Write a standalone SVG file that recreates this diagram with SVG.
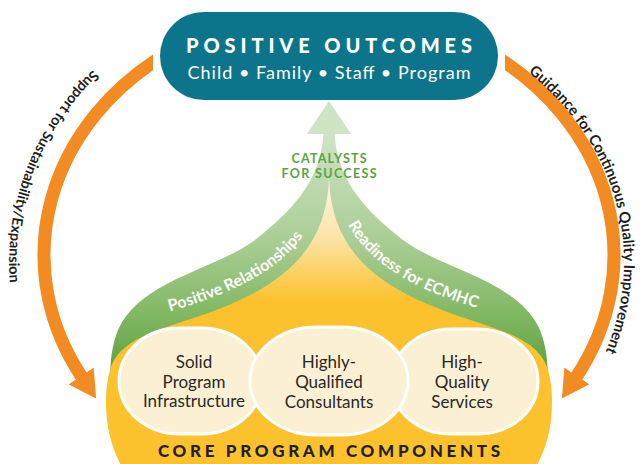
<svg xmlns="http://www.w3.org/2000/svg" width="641" height="464" viewBox="0 0 641 464">
<style>
.arc{fill:none;stroke:#f28b22;stroke-width:13}
.arclbl{font-family:Lato,"Liberation Sans",sans-serif;font-size:14.5px;font-weight:700;fill:#231f20}
.comp{fill:#fcf0d4;stroke:#ffffff;stroke-width:3}
.ct{font-family:Lato,"Liberation Sans",sans-serif;font-size:17px;fill:#2b2825;text-anchor:middle}
.band{font-family:Lato,"Liberation Sans",sans-serif;font-size:16px;font-weight:700;fill:#ffffff}
.cat{font-family:Lato,"Liberation Sans",sans-serif;font-size:12.5px;font-weight:700;fill:#5aa443;text-anchor:middle}
</style>
<defs>
<linearGradient id="gGreen" gradientUnits="userSpaceOnUse" x1="0" y1="130" x2="0" y2="370">
<stop offset="0" stop-color="#d0e4c6"/>
<stop offset="0.45" stop-color="#abce96"/>
<stop offset="0.75" stop-color="#84b966"/>
<stop offset="1" stop-color="#5ca340"/>
</linearGradient>
<linearGradient id="gInner" gradientUnits="userSpaceOnUse" x1="0" y1="180" x2="0" y2="300">
<stop offset="0" stop-color="#fdf6e6"/>
<stop offset="0.5" stop-color="#fde2a4"/>
<stop offset="1" stop-color="#fcc22e"/>
</linearGradient>
<marker id="head" markerUnits="userSpaceOnUse" markerWidth="27" markerHeight="30" viewBox="0 0 27 30" refX="1" refY="15" orient="auto">
<path d="M0,0 L27,15 L0,30 Z" fill="#f28b22"/>
</marker>
<clipPath id="clipL"><rect x="0" y="0" width="153" height="464"/></clipPath>
<clipPath id="clipR"><rect x="505" y="0" width="136" height="464"/></clipPath>
<path id="tpL" d="M 123.3 43.7 A 320 285 0 0 0 39 382.4"/>
<path id="tpR" d="M 518.6 65.1 A 295 257 0 0 1 584.5 390.5"/>
<path id="tpG1" d="M 160 314 C 230 295, 290 270, 315 215"/>
<path id="tpG2" d="M 343 215 C 368 270, 428 295, 498 314"/>
</defs>

<g id="connectors">
<g clip-path="url(#clipL)"><path class="arc" d="M 169.6 51.9 A 285 245 0 0 0 81.7 376.8"/></g>
<g clip-path="url(#clipR)"><path class="arc" d="M 488.4 51.9 A 285 245 0 0 1 576.3 376.8"/></g>
<path d="M 81.7 376.8 l 0.01 0.015" fill="none" stroke="none" marker-end="url(#head)"/>
<path d="M 576.3 376.8 l -0.01 0.015" fill="none" stroke="none" marker-end="url(#head)"/>
<text class="arclbl"><textPath href="#tpL" startOffset="40">Support for Sustainability/Expansion</textPath></text>
<text class="arclbl" style="font-size:15px"><textPath href="#tpR" startOffset="12">Guidance for Continuous Quality Improvement</textPath></text>
</g>

<g id="catalysts">
<path d="M 323.5 133 C 321 175, 300 205, 255 240 C 215 270, 140 280, 118 330 C 112 345, 110 360, 110 385 L 548 385 C 548 360, 546 345, 540 330 C 518 280, 443 270, 403 240 C 358 205, 337 175, 334.5 133 Z" fill="url(#gGreen)"/>
<polygon points="329,101 307,134 351,134" fill="#cfe3c5"/>
<path d="M 329 178 C 327 235, 300 272, 240 300 L 240 306 L 418 306 L 418 300 C 358 272, 331 235, 329 178 Z" fill="url(#gInner)"/>
<text class="cat" x="329" y="163" textLength="75" lengthAdjust="spacing">CATALYSTS</text>
<text class="cat" x="329" y="178" textLength="95" lengthAdjust="spacing">FOR SUCCESS</text>
<text class="band"><textPath href="#tpG1" startOffset="10">Positive Relationships</textPath></text>
<text class="band"><textPath href="#tpG2" startOffset="11">Readiness for ECMHC</textPath></text>
</g>

<g id="core">
<path d="M 240 300 C 180 328, 122 330, 110 370 C 106 384, 105 400, 107 420 C 110 445, 118 462, 135 490 L 523 490 C 540 462, 548 445, 551 420 C 553 400, 552 384, 548 370 C 536 330, 478 328, 418 300 Z" fill="#fcc22e"/>
<text x="329" y="457" textLength="342" lengthAdjust="spacing" style="font-family:Lato,'Liberation Sans',sans-serif;font-size:17px;font-weight:900;fill:#231f20;text-anchor:middle">CORE PROGRAM COMPONENTS</text>
</g>

<g id="comp-infrastructure">
<rect class="comp" x="119" y="328" width="143" height="106" rx="60" ry="53"/>
<text class="ct" x="194" y="368">Solid</text>
<text class="ct" x="194" y="388">Program</text>
<text class="ct" x="194" y="407">Infrastructure</text>
</g>
<g id="comp-services">
<rect class="comp" x="391" y="329" width="147" height="105" rx="60" ry="52"/>
<text class="ct" x="462" y="368">High-</text>
<text class="ct" x="462" y="388">Quality</text>
<text class="ct" x="462" y="408">Services</text>
</g>
<g id="comp-consultants">
<rect class="comp" x="250" y="327" width="158" height="108" rx="66" ry="54"/>
<text class="ct" x="329" y="368">Highly-</text>
<text class="ct" x="329" y="388">Qualified</text>
<text class="ct" x="329" y="408">Consultants</text>
</g>

<g id="outcomes">
<rect x="160" y="12" width="338" height="88" rx="44" ry="44" fill="#0d758b"/>
<text x="329" y="53" textLength="286" lengthAdjust="spacing" style="font-family:Lato,'Liberation Sans',sans-serif;font-size:20px;font-weight:900;fill:#ffffff;text-anchor:middle">POSITIVE OUTCOMES</text>
<text x="329" y="79" textLength="283" lengthAdjust="spacing" style="font-family:Lato,'Liberation Sans',sans-serif;font-size:18px;fill:#ffffff;text-anchor:middle">Child • Family • Staff • Program</text>
</g>
</svg>
